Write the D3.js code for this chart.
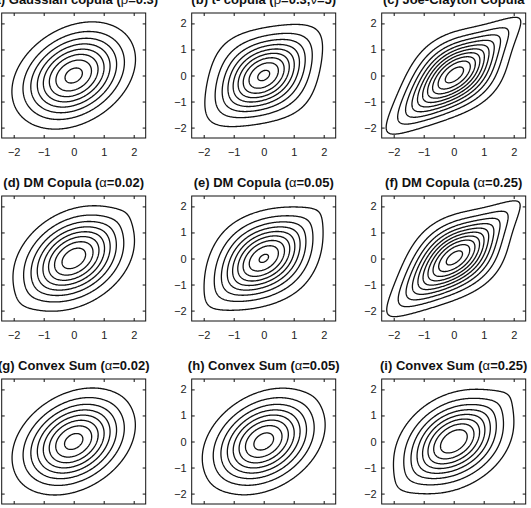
<!DOCTYPE html>
<html><head><meta charset="utf-8">
<script src="https://cdn.jsdelivr.net/npm/d3@7"></script>
<style>body{margin:0;background:#fff}svg{display:block}</style>
</head><body>
<svg id="chart" width="531" height="508"></svg>
<script>
// ---- data ----
const panelTitles = [
  "(a) Gaussian copula (ρ=0.3)", "(b) t- copula (ρ=0.3,ν=5)", "(c) Joe-Clayton Copula",
  "(d) DM Copula (α=0.02)", "(e) DM Copula (α=0.05)", "(f) DM Copula (α=0.25)",
  "(g) Convex Sum (α=0.02)", "(h) Convex Sum (α=0.05)", "(i) Convex Sum (α=0.25)"
];
const gaussRho = 0.3;
const tRho = 0.3;
const tNu = 5;
const jcKappa = 1.55;
const jcGamma = 0.85;
// mixture weights of the component densities, per panel (a..i)
const weightGauss = [1, 0, 0, 0.85, 0.4, 0.05, 0.98, 0.95, 0.75];
const weightT     = [0, 1, 0, 0,    0.4, 0,    0,    0,    0];
const weightJC    = [0, 0, 1, 0.15, 0.2, 0.95, 0.02, 0.05, 0.25];
const contourLevels = [0.02, 0.04, 0.06, 0.08, 0.10, 0.12, 0.14, 0.16, 0.18, 0.20, 0.22, 0.24, 0.26, 0.28, 0.30];
const tickValues = [-2, -1, 0, 1, 2];
const axisDomain = [-2.4, 2.4];

// ---- math helpers ----
function erfc(x){const z=Math.abs(x);const t=1/(1+0.5*z);
  const r=t*Math.exp(-z*z-1.26551223+t*(1.00002368+t*(0.37409196+t*(0.09678418+t*(-0.18628806+t*(0.27886807+t*(-1.13520398+t*(1.48851587+t*(-0.82215223+t*0.17087277)))))))));
  return x>=0?r:2-r;}
const Phi = x => 0.5*erfc(-x/Math.SQRT2);
const phi = x => Math.exp(-x*x/2)/Math.sqrt(2*Math.PI);
function gammaln(x){const cof=[76.18009172947146,-86.50532032941677,24.01409824083091,-1.231739572450155,0.1208650973866179e-2,-0.5395239384953e-5];
  let y=x,tmp=x+5.5;tmp-=(x+0.5)*Math.log(tmp);let ser=1.000000000190015;for(let j=0;j<6;j++)ser+=cof[j]/++y;return -tmp+Math.log(2.5066282746310005*ser/x);}
function betacf(a,b,x){const FPMIN=1e-300;let qab=a+b,qap=a+1,qam=a-1,c=1,d=1-qab*x/qap;if(Math.abs(d)<FPMIN)d=FPMIN;d=1/d;let h=d;
  for(let m=1;m<=300;m++){const m2=2*m;let aa=m*(b-m)*x/((qam+m2)*(a+m2));d=1+aa*d;if(Math.abs(d)<FPMIN)d=FPMIN;c=1+aa/c;if(Math.abs(c)<FPMIN)c=FPMIN;d=1/d;h*=d*c;
    aa=-(a+m)*(qab+m)*x/((a+m2)*(qap+m2));d=1+aa*d;if(Math.abs(d)<FPMIN)d=FPMIN;c=1+aa/c;if(Math.abs(c)<FPMIN)c=FPMIN;d=1/d;const del=d*c;h*=del;if(Math.abs(del-1)<3e-16)break;}
  return h;}
function betai(a,b,x){if(x<=0)return 0;if(x>=1)return 1;const bt=Math.exp(gammaln(a+b)-gammaln(a)-gammaln(b)+a*Math.log(x)+b*Math.log(1-x));
  return x<(a+1)/(a+b+2)?bt*betacf(a,b,x)/a:1-bt*betacf(b,a,1-x)/b;}
function tCDF(t,nu){const p=0.5*betai(nu/2,0.5,nu/(nu+t*t));return t>0?1-p:p;}
function tInv(p,nu){let lo=-200,hi=200;for(let i=0;i<120;i++){const m=(lo+hi)/2;if(tCDF(m,nu)<p)lo=m;else hi=m;}return (lo+hi)/2;}

function densGauss(x,y,r){const q=(x*x-2*r*x*y+y*y)/(1-r*r);return Math.exp(-q/2)/(2*Math.PI*Math.sqrt(1-r*r));}
function makeT(r,nu){
  const k2=Math.exp(gammaln((nu+2)/2)-gammaln(nu/2))/(nu*Math.PI*Math.sqrt(1-r*r));
  const k1=Math.exp(gammaln((nu+1)/2)-gammaln(nu/2))/Math.sqrt(nu*Math.PI);
  const cache=new Map();
  const q=x=>{if(!cache.has(x)){const a=x<=0?tInv(Phi(x),nu):-tInv(Phi(-x),nu);cache.set(x,a);}return cache.get(x);};
  return (x,y)=>{const a=q(x),b=q(y);const Q=(a*a-2*r*a*b+b*b)/(1-r*r);
    const f2=k2*Math.pow(1+Q/nu,-(nu+2)/2);
    const f1a=k1*Math.pow(1+a*a/nu,-(nu+1)/2),f1b=k1*Math.pow(1+b*b/nu,-(nu+1)/2);
    return f2/(f1a*f1b)*phi(x)*phi(y);};
}
function makeJC(kap,gam){
  const marg=x=>{const ub=Phi(-x);const ubk=Math.pow(ub,kap);const A=-Math.expm1(kap*Math.log(ub));
    const am1=Math.expm1(-gam*Math.log1p(-ubk));const dA=kap*Math.pow(ub,kap-1);
    const da=-gam*Math.pow(A,-gam-1)*dA;return {am1,da};};
  const cache=new Map();const M=x=>{if(!cache.has(x))cache.set(x,marg(x));return cache.get(x);};
  return (x,y)=>{const mx=M(x),my=M(y);const lS=Math.log1p(mx.am1+my.am1);
    const hh=-Math.expm1(-lS/gam);
    const h1=(1/gam)*Math.exp((-1/gam-1)*lS);
    const h2=-(1/gam)*(1/gam+1)*Math.exp((-1/gam-2)*lS);
    const g2=-(1/kap)*((1/kap-1)*Math.pow(hh,1/kap-2)*h1*h1+Math.pow(hh,1/kap-1)*h2);
    return g2*mx.da*my.da*phi(x)*phi(y);};
}
const fT=makeT(tRho,tNu), fJC=makeJC(jcKappa,jcGamma);

// ---- grid ----
const g0=-3, gStep=0.025, gN=241;
const gridX=d3.range(gN).map(i=>+(g0+i*gStep).toFixed(4));

// ---- layout ----
const svg=d3.select("#chart");
const colLeft=[1.7,191.7,381.7], rowTop=[13,196,379];
const pw=144, ph=125;
const fmt=d=>d<0?"−"+(-d):String(d);

panelTitles.forEach((title,k)=>{
  const col=k%3,row=Math.floor(k/3);
  const L=colLeft[col],T=rowTop[row];
  const xs=d3.scaleLinear().domain(axisDomain).range([L,L+pw]);
  const ys=d3.scaleLinear().domain(axisDomain).range([T+ph,T]);
  const wG=weightGauss[k],wT=weightT[k],wJ=weightJC[k];
  const vals=new Float64Array(gN*gN);
  for(let j=0;j<gN;j++)for(let i=0;i<gN;i++){const x=gridX[i],y=gridX[j];let v=0;
    if(wG)v+=wG*densGauss(x,y,gaussRho);if(wT)v+=wT*fT(x,y);if(wJ)v+=wJ*fJC(x,y);
    vals[i+j*gN]=isFinite(v)?v:0;}
  const conts=d3.contours().size([gN,gN]).thresholds(contourLevels)(vals);
  const tr=d3.geoTransform({point(px,py){this.stream.point(xs(g0+(px-0.5)*gStep),ys(g0+(py-0.5)*gStep));}});
  const path=d3.geoPath(tr);
  const g=svg.append("g");
  const cid="clip"+k;
  g.append("clipPath").attr("id",cid).append("rect").attr("x",L).attr("y",T).attr("width",pw).attr("height",ph);
  g.append("g").attr("clip-path",`url(#${cid})`).selectAll("path").data(conts).join("path")
    .attr("d",path).attr("fill","none").attr("stroke","#111").attr("stroke-width",1.3).attr("stroke-linejoin","round");
  g.append("rect").attr("x",L).attr("y",T).attr("width",pw).attr("height",ph).attr("fill","none").attr("stroke","#111").attr("stroke-width",1);
  const tl=3;
  const showX=row<2, showY=col>0;
  const bottom=d3.axisBottom(xs).tickValues(tickValues).tickSize(-tl).tickFormat(showX?fmt:"").tickPadding(10);
  const left=d3.axisLeft(ys).tickValues(tickValues).tickSize(-tl).tickFormat(showY?fmt:"").tickPadding(5);
  const top=d3.axisTop(xs).tickValues(tickValues).tickSize(-tl).tickFormat("");
  const right=d3.axisRight(ys).tickValues(tickValues).tickSize(-tl).tickFormat("");
  const styleAx=s=>{s.select(".domain").remove();s.selectAll("line").attr("stroke","#111");
    s.selectAll("text").attr("font-family","'Liberation Sans',Arial,sans-serif").attr("font-size",11).attr("fill","#222");
    s.selectAll("text").filter(function(){return this.textContent==="";}).remove();};
  g.append("g").attr("transform",`translate(0,${T+ph})`).call(bottom).call(styleAx);
  g.append("g").attr("transform",`translate(${L},0)`).call(left).call(styleAx);
  g.append("g").attr("transform",`translate(0,${T})`).call(top).call(styleAx);
  g.append("g").attr("transform",`translate(${L+pw},0)`).call(right).call(styleAx);
  const t=g.append("text").attr("x",L+pw/2).attr("y",T-9.5).attr("text-anchor","middle")
    .attr("font-family","'Liberation Sans',Arial,sans-serif").attr("font-size",13).attr("font-weight","bold").attr("fill","#111");
  title.split(/([αρν])/).filter(s=>s.length).forEach(s=>{
    t.append("tspan").text(s).attr("font-weight",/[αρν]/.test(s)?"normal":"bold");});
});
</script>
</body></html>
